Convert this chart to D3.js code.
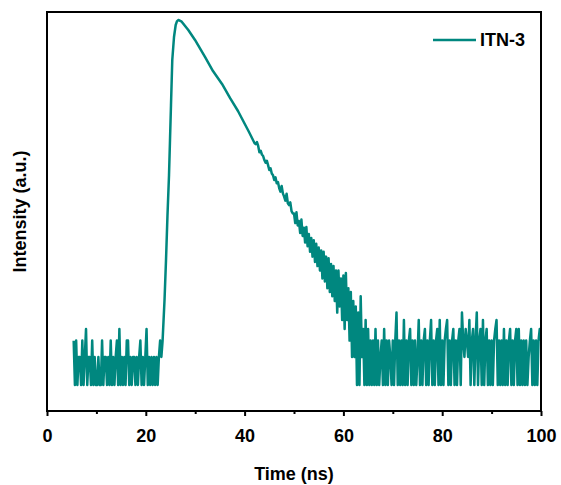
<!DOCTYPE html>
<html><head><meta charset="utf-8">
<script src="https://cdn.jsdelivr.net/npm/d3@7"></script>
<style>body{margin:0;background:#fff}svg{display:block}</style>
</head><body>
<svg id="c" width="561" height="485"></svg>
<script>
// ---- data ----
const seriesName = "ITN-3";
const xLabel = "Time (ns)";
const yLabel = "Intensity (a.u.)";
const xMajorTicks = [0, 20, 40, 60, 80, 100];
const xMinorTicks = [10, 30, 50, 70, 90];

// pre-pulse background, 0.25 ns channels from 5.4 ns
const baseStart = 5.4, baseStep = 0.25;
const baselineCounts = [3,1,3,1,2,2,1,3,1,2, 4,1,2,2,1,3,1,2,1,1, 2,1,1,3,1,2,2,1,2,1,
  3,1,2,1,2,3,1,4,1,2, 1,2,1,3,3,1,2,1,2,2, 1,2,1,2,3,1,2,1,2,4, 1,2,1,2,1,2,1,2,1,2, 3,2,3];

// rise and smooth early decay (time ns, counts)
const riseTimes  = [23.79, 24.09, 24.39, 24.70, 24.90, 25.10, 25.36, 25.71, 26.05, 26.30, 26.58, 27.27, 28.60, 29.96, 31.98, 33.60, 35.43, 37.04, 38.66, 40.89];
const riseCounts = [8.2, 22, 67, 181, 431, 1025, 3125, 5520, 7430, 8110, 8410, 8060, 6560, 5130, 3365, 2377, 1725, 1220, 884, 525];

// noisy late decay and background, 0.25 ns channels from 42 ns
const tailStart = 42.0, tailStep = 0.25;
const tailCounts = [
  400,388,410,372, 318,330,301,290, 262,245,258,231, 205,214,188,180,
  160,171,148,152, 131,120,138,115, 106,96,114,90, 86,92,74,70,
  70,55,72,52, 58,43,60,40, 49,34,50,31, 42,27,38,24,
  36,21,33,19, 30,17,28,14, 27,13,24,11, 23,10,20,9,
  19,8,17,6, 17,7,14,5, 15,4,16,5, 11,3,10,2,
  8,2,7,1, 6,1,9,2, 4,1,5,1, 4,1,3,1,
  3,1,4,1, 3,1,2,3, 1,4,1,3, 1,3,2,1, 3,1,3,6, 1,3,1,3, 1,5,1,3, 1,3,4,1,
  3,1,3,1, 2,5,1,3, 1,3,4,1, 3,1,3,5, 1,3,1,3, 4,1,5,1, 3,1,3,4, 5,1,3,1,
  3,4,1,3, 1,3,4,1, 6,3,2,4, 3,2,5,1, 3,4,1,3, 6,1,3,4, 1,5,1,3, 4,1,3,1,
  3,1,3,4, 5,1,3,1, 3,1,4,1, 3,1,3,4, 1,3,1,3, 4,1,4,1, 3,1,3,1, 3,1,2,3,
  4,1,3,1, 3,1,3,4, 3
];

// ---- build points ----
const points = [];
baselineCounts.forEach((c, i) => points.push([baseStart + i * baseStep, c]));
riseTimes.forEach((t, i) => points.push([t, riseCounts[i]]));
tailCounts.forEach((c, i) => points.push([tailStart + i * tailStep, c]));

// ---- layout ----
const W = 561, H = 485;
const L = 47, R = 541, T = 12, B = 411;
const color = "#00877f";
const font = "'Liberation Sans', Arial, Helvetica, sans-serif";
const fs = "18px";

const svg = d3.select("#c");
svg.append("rect").attr("width", W).attr("height", H).attr("fill", "#fff");

const x = d3.scaleLinear().domain([0, 100]).range([L, R]);
const y = d3.scaleLog().domain([0.525, 10250]).range([B, T]);

svg.append("defs").append("clipPath").attr("id", "clip")
  .append("rect").attr("x", L).attr("y", T).attr("width", R - L).attr("height", B - T);

const line = d3.line().x(d => x(d[0])).y(d => y(d[1]));
svg.append("path").datum(points)
  .attr("clip-path", "url(#clip)")
  .attr("fill", "none").attr("stroke", color)
  .attr("stroke-width", 2.5).attr("stroke-linejoin", "round")
  .attr("d", line);

// minor ticks
const minor = svg.append("g").attr("transform", `translate(0,${B})`)
  .call(d3.axisBottom(x).tickValues(xMinorTicks).tickSize(3).tickFormat(""));
minor.select(".domain").remove();
minor.selectAll("line").attr("stroke", "#000").attr("stroke-width", 2);

// major ticks
const major = svg.append("g").attr("transform", `translate(0,${B})`)
  .call(d3.axisBottom(x).tickValues(xMajorTicks).tickSize(5).tickPadding(13).tickFormat(d3.format("d")));
major.select(".domain").remove();
major.selectAll("line").attr("stroke", "#000").attr("stroke-width", 2);
major.selectAll("text").attr("fill", "#000").style("font-family", font)
  .style("font-size", fs).style("font-weight", "bold");

// frame
svg.append("rect").attr("x", L).attr("y", T).attr("width", R - L).attr("height", B - T)
  .attr("fill", "none").attr("stroke", "#000").attr("stroke-width", 2);

// axis titles
svg.append("text").attr("x", (L + R) / 2).attr("y", 480)
  .attr("text-anchor", "middle").style("font-family", font)
  .style("font-size", fs).style("font-weight", "bold").text(xLabel);

svg.append("text").attr("transform", `translate(26,${(T + B) / 2}) rotate(-90)`)
  .attr("text-anchor", "middle").style("font-family", font)
  .style("font-size", fs).style("font-weight", "bold").text(yLabel);

// legend
svg.append("line").attr("x1", 433).attr("x2", 476).attr("y1", 40).attr("y2", 40)
  .attr("stroke", color).attr("stroke-width", 2.5);
svg.append("text").attr("x", 480).attr("y", 46)
  .style("font-family", font).style("font-size", fs).style("font-weight", "bold")
  .attr("fill", "#000").text(seriesName);
</script>
</body></html>
